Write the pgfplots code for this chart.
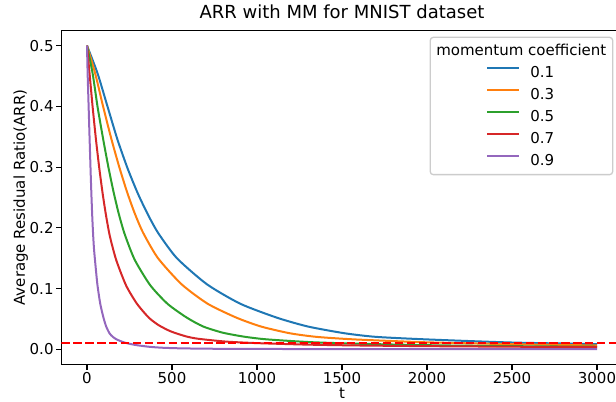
\documentclass[border=0pt]{standalone}
\usepackage{fontspec}
\setmainfont{DejaVu Sans}
\usepackage{pgfplots}
\pgfplotsset{compat=1.18}
\usetikzlibrary{calc}
\definecolor{c0}{HTML}{1F77B4}
\definecolor{c1}{HTML}{FF7F0E}
\definecolor{c2}{HTML}{2CA02C}
\definecolor{c3}{HTML}{D62728}
\definecolor{c4}{HTML}{9467BD}
\begin{document}
\begin{tikzpicture}
\begin{axis}[
  scale only axis, width=561pt, height=334pt,
  xmin=-150, xmax=3150, ymin=-0.025, ymax=0.525,
  axis line style={black, line width=1.2pt},
  tick pos=left, tick align=outside, major tick length=5.25pt,
  every tick/.style={black, line width=1.2pt},
  xtick={0,500,1000,1500,2000,2500,3000},
  ytick={0,0.1,0.2,0.3,0.4,0.5},
  /pgf/number format/assume math mode=true,
  xticklabel style={font=\fontsize{15}{18}\selectfont, inner sep=2.5pt, /pgf/number format/1000 sep={}},
  yticklabel style={font=\fontsize{15}{18}\selectfont, inner sep=2.5pt, /pgf/number format/fixed, /pgf/number format/fixed zerofill, /pgf/number format/precision=1},
  title={ARR with MM for MNIST dataset},
  title style={font=\fontsize{18}{21}\selectfont, at={(rel axis cs:0.5,1.01856)}, anchor=base},
  xlabel={t},
  xlabel style={font=\fontsize{15}{18}\selectfont, at={(rel axis cs:0.5,-0.1021)}, anchor=base},
  ylabel={Average Residual Ratio(ARR)},
  ylabel style={font=\fontsize{15}{18}\selectfont, at={(rel axis cs:-0.06506,0.5)}, anchor=base, rotate=0},
  legend cell align=left,
  legend style={at={(1,1)}, xshift=-9.2pt, yshift=-6.2pt, anchor=north east,
    draw=black!20, line width=1.3pt, rounded corners=3pt, fill=white,
    inner xsep=6.3pt, inner ysep=6pt, column sep=0pt, row sep=6.7pt,
    font=\fontsize{15}{18}\selectfont,
    nodes={inner sep=0pt, text height=12.3pt, text depth=3pt}},
  legend image code/.code={\path[draw=none,fill=none] (-50.7pt,5.4pt) rectangle (43pt,5.4pt); \draw[#1, sharp corners] (0pt,5.4pt) -- (32pt,5.4pt);},
  every axis plot/.append style={line width=2pt},
]
\addlegendimage{empty legend}
\addlegendentry{\hspace*{-94pt}momentum coefficient}

\addplot[c0, smooth, tension=0.4] coordinates {
(0,0.5) (62,0.4545) (121,0.3995) (180,0.3447) (240,0.297) (300,0.256) (360,0.221) (420,0.191) (529,0.150) (706,0.107) (902,0.075) (1118,0.052) (1300,0.0375) (1514,0.0265) (1700,0.0205) (2000,0.0163) (2500,0.0112) (3000,0.0086)};
\addlegendentry{0.1}
\addplot[c1, smooth, tension=0.4] coordinates {
(0,0.5) (48,0.4545) (95,0.3995) (145,0.3447) (190,0.300) (235,0.2596) (280,0.2245) (330,0.192) (417,0.1503) (556,0.1072) (710,0.075) (880,0.052) (1024,0.0375) (1192,0.0265) (1350,0.0205) (1575,0.0163) (1969,0.0118) (2362,0.0092) (3000,0.0063)};
\addlegendentry{0.3}
\addplot[c2, smooth, tension=0.4] coordinates {
(0,0.5) (33,0.4545) (62,0.3995) (96,0.3447) (125,0.3012) (155,0.2607) (185,0.2253) (220,0.191) (280,0.1478) (372,0.1055) (475,0.0746) (588,0.052) (684,0.0375) (797,0.0275) (920,0.021) (1053,0.0165) (1316,0.0118) (1600,0.0092) (2000,0.0068) (2500,0.0052) (3000,0.0042)};
\addlegendentry{0.5}
\addplot[c3, smooth, tension=0.4] coordinates {
(0,0.5) (15,0.4545) (33,0.3995) (53,0.3447) (73,0.2967) (93,0.2547) (113,0.2187) (135,0.1857) (172,0.1469) (230,0.1051) (294,0.075) (364,0.052) (423,0.0395) (493,0.0295) (580,0.0215) (651,0.0175) (814,0.0128) (1000,0.0102) (1300,0.0077) (1600,0.0063) (2000,0.0052) (2500,0.0043) (3000,0.0036)};
\addlegendentry{0.7}
\addplot[c4, smooth, tension=0.4] coordinates {
(0,0.5) (3.7,0.4545) (9.6,0.3995) (15.5,0.3447) (20.5,0.3) (25,0.262) (30.4,0.222) (35.8,0.19) (40.5,0.168) (46,0.150) (61,0.107) (78,0.075) (97,0.052) (113,0.0375) (132,0.0265) (150,0.021) (174,0.0163) (217,0.0115) (260,0.0085) (300,0.0065) (372,0.004) (450,0.0025) (570,0.0015) (800,0.0008) (1200,0.0005) (2000,0.0004) (3000,0.0003)};
\addlegendentry{0.9}
\addplot[red, dashed, dash pattern=on 8.3pt off 3.6pt, forget plot] coordinates {(-150,0.01) (3150,0.01)};

\coordinate (bl) at (rel axis cs:0,0);
\coordinate (tr) at (rel axis cs:1,1);
\end{axis}
\pgfresetboundingbox
\path[use as bounding box] ($(bl)+(-61.5pt,-36.6pt)$) rectangle ($(tr)+(-6.5pt,30.5pt)$);
\end{tikzpicture}
\end{document}
